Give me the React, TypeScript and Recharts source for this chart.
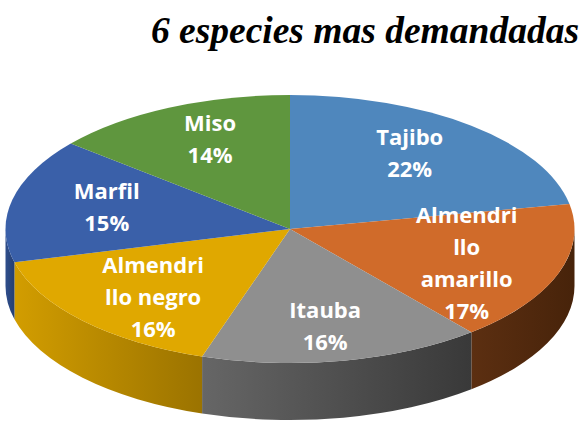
import { Cell, Pie, PieChart } from 'recharts';

const categories = [
  'Tajibo',
  'Almendrillo amarillo',
  'Itauba',
  'Almendrillo negro',
  'Marfil',
  'Miso',
];
const shares = [22, 17, 16, 16, 15, 14];
const labelLines = [
  ['Tajibo'],
  ['Almendri', 'llo', 'amarillo'],
  ['Itauba'],
  ['Almendri', 'llo negro'],
  ['Marfil'],
  ['Miso'],
];

const TOP_COLORS = ['#4f87bd', '#d06b2a', '#8f8f8f', '#e0a800', '#3a60a9', '#5f963e'];
const WALL_LIGHT = ['#3b6592', '#5c2f11', '#666666', '#d29d00', '#2f4e8c', '#476f2e'];
const WALL_DARK = ['#2f5175', '#47230a', '#393939', '#9b7300', '#253f72', '#385924'];

const CX = 290;
const CY = 229;
const RX = 284.5;
const K = 134 / 284.5;
const DEPTH = 57;
const RAD = Math.PI / 180;

const data = categories.map((name, i) => ({ name, value: shares[i] }));

function pt(cx: number, cy: number, r: number, a: number): [number, number] {
  return [cx + r * Math.cos(a * RAD), cy - r * K * Math.sin(a * RAD)];
}

function idxOf(p: any): number {
  const name = p.name ?? p.payload?.name;
  const i = categories.indexOf(name);
  return i >= 0 ? i : p.index ?? 0;
}

function TopSlice(p: any) {
  const { cx, cy, outerRadius: r, startAngle, endAngle, fill } = p;
  const [x1, y1] = pt(cx, cy, r, startAngle);
  const [x2, y2] = pt(cx, cy, r, endAngle);
  const large = Math.abs(startAngle - endAngle) > 180 ? 1 : 0;
  const sweep = startAngle > endAngle ? 1 : 0;
  const d = `M ${cx} ${cy} L ${x1} ${y1} A ${r} ${r * K} 0 ${large} ${sweep} ${x2} ${y2} Z`;
  return <path d={d} fill={fill} stroke="none" />;
}

function WallSlice(p: any) {
  const { cx, cy, outerRadius: r, startAngle, endAngle } = p;
  // only the front half of the rim is visible
  const a1 = Math.min(startAngle, 0);
  const a2 = Math.max(endAngle, -180);
  if (a1 <= a2) return <g />;
  const i = idxOf(p);
  const [x1, y1] = pt(cx, cy, r, a1);
  const [x2, y2] = pt(cx, cy, r, a2);
  const d =
    `M ${x1} ${y1} A ${r} ${r * K} 0 0 1 ${x2} ${y2} ` +
    `L ${x2} ${y2 + DEPTH} A ${r} ${r * K} 0 0 0 ${x1} ${y1 + DEPTH} Z`;
  const id = `wall-grad-${i}`;
  return (
    <g>
      <defs>
        <linearGradient id={id} x1="0" y1="0" x2="1" y2="0">
          <stop offset="0%" stopColor={WALL_LIGHT[i]} />
          <stop offset="100%" stopColor={WALL_DARK[i]} />
        </linearGradient>
      </defs>
      <path d={d} fill={`url(#${id})`} stroke="none" />
    </g>
  );
}

function SliceLabel(p: any) {
  const { cx, cy, midAngle, outerRadius: r } = p;
  const i = idxOf(p);
  const x = cx + 0.66 * r * Math.cos(midAngle * RAD);
  const y = cy - 0.74 * r * K * Math.sin(midAngle * RAD);
  const lines = [...labelLines[i], `${shares[i]}%`];
  const lh = 32;
  return (
    <text
      x={x}
      y={y}
      textAnchor="middle"
      fill="#ffffff"
      fontFamily="'Open Sans', sans-serif"
      fontWeight={700}
      fontSize={22}
    >
      {lines.map((t, j) => (
        <tspan key={j} x={x} y={y - ((lines.length - 1) * lh) / 2 + j * lh + 8}>
          {t}
        </tspan>
      ))}
    </text>
  );
}

export default function App() {
  return (
    <div
      style={{
        position: 'absolute',
        left: 0,
        top: 0,
        width: 586,
        height: 423,
        background: '#ffffff',
        overflow: 'hidden',
      }}
    >
      <div
        style={{
          position: 'absolute',
          left: 0,
          top: 11,
          width: 579,
          textAlign: 'right',
          fontFamily: "'Liberation Serif', 'Times New Roman', serif",
          fontWeight: 700,
          fontStyle: 'italic',
          fontSize: 37.5,
          lineHeight: '40px',
          color: '#000000',
        }}
      >
        6 especies mas demandadas
      </div>
      <PieChart
        width={586}
        height={423}
        margin={{ top: 0, right: 0, bottom: 0, left: 0 }}
        style={{ position: 'absolute', left: 0, top: 0 }}
      >
        <Pie
          data={data}
          dataKey="value"
          nameKey="name"
          cx={CX}
          cy={CY}
          outerRadius={RX}
          startAngle={90}
          endAngle={-270}
          stroke="none"
          shape={WallSlice}
          activeShape={WallSlice}
          inactiveShape={WallSlice}
          isAnimationActive={false}
        >
          {data.map((d, i) => (
            <Cell key={d.name} fill={TOP_COLORS[i]} />
          ))}
        </Pie>
        <Pie
          data={data}
          dataKey="value"
          nameKey="name"
          cx={CX}
          cy={CY}
          outerRadius={RX}
          startAngle={90}
          endAngle={-270}
          stroke="none"
          shape={TopSlice}
          activeShape={TopSlice}
          inactiveShape={TopSlice}
          label={SliceLabel}
          labelLine={false}
          isAnimationActive={false}
        >
          {data.map((d, i) => (
            <Cell key={d.name} fill={TOP_COLORS[i]} />
          ))}
        </Pie>
      </PieChart>
    </div>
  );
}
